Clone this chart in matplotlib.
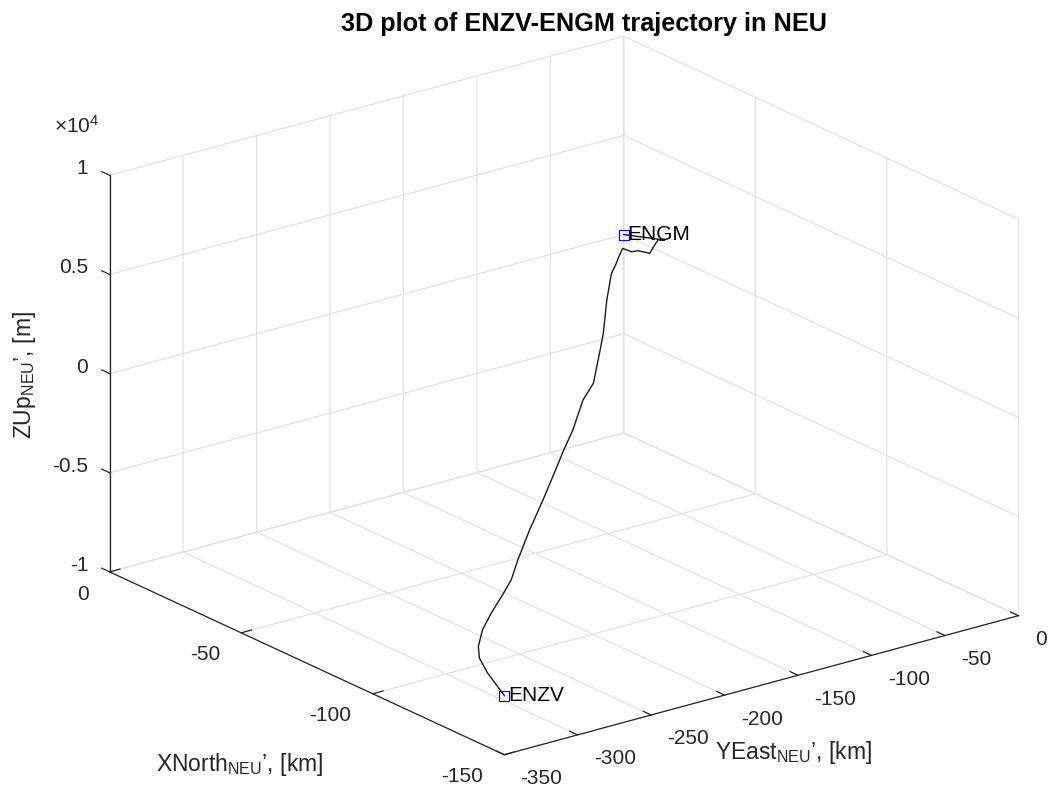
import matplotlib
matplotlib.use('Agg')
import matplotlib.pyplot as plt
from matplotlib.transforms import ScaledTranslation

# ---------------- data ----------------
# trajectory, NEU frame centred on ENGM
x_north = [-126.6, -124.0, -120.2, -117.1, -116.7, -113.2, -106.5, -97.1, -90.4,
           -85.1, -75.7, -65.0, -56.9, -48.9, -40.8, -32.8, -24.3, -19.0, -16.4,
           -13.6, -10.0, -6.4, -4.6, -1.0, -3.5, -6.0, -10.4, -12.7, -13.6, -16.1, 0.0]
y_east = [-308.0, -308.0, -308.0, -308.0, -308.0, -298.9, -281.0, -256.4, -238.5,
          -224.5, -199.7, -171.4, -150.2, -128.9, -107.7, -86.5, -64.2, -50.1, -43.3,
          -35.9, -26.3, -17.0, -12.1, -2.6, -1.0, -1.0, -1.0, -1.0, -1.0, -1.0, 0.0]
z_up = [-9300, -8996, -8553, -7994, -7430, -6988, -6917, -7063, -7078,
        -6675, -6242, -5955, -5698, -5360, -5184, -4594, -4720, -3647, -3103,
        -1743, -816, -800, -675, -584, -632, -428, -286, 358, 580, 733, 0]

airports = ['ENZV', 'ENGM']
ap_x = [-126.6, 0.0]
ap_y = [-308.0, 0.0]
ap_z = [-9300, 0]

x_ticks = [-150, -100, -50, 0]
x_ticklabels = ['-150', '-100', '-50', '0']
y_ticks = [-350, -300, -250, -200, -150, -100, -50, 0]
y_ticklabels = ['-350', '-300', '-250', '-200', '-150', '-100', '-50', '0']
z_ticks = [-10000, -5000, 0, 5000, 10000]
z_ticklabels = ['-1', '-0.5', '0', '0.5', '1']

title = '3D plot of ENZV-ENGM trajectory in NEU'
xlabel = 'XNorth$_{\\mathregular{NEU}}$\u2019, [km]'
ylabel = 'YEast$_{\\mathregular{NEU}}$\u2019, [km]'
zlabel = 'ZUp$_{\\mathregular{NEU}}$\u2019, [m]'

# ---------------- style ----------------
plt.rcParams['font.family'] = ['Liberation Sans', 'DejaVu Sans']
plt.rcParams['mathtext.fontset'] = 'custom'
plt.rcParams['mathtext.rm'] = 'Liberation Sans'
plt.rcParams['mathtext.it'] = 'Liberation Sans:italic'
plt.rcParams['mathtext.bf'] = 'Liberation Sans:bold'
plt.rcParams['grid.color'] = '#e0e0e0'
plt.rcParams['grid.linewidth'] = 0.8
plt.rcParams['grid.linestyle'] = '-'
plt.rcParams['xtick.color'] = '#262626'
plt.rcParams['ytick.color'] = '#262626'
plt.rcParams['text.color'] = '#262626'
AX = '#262626'
TICK_FS = 15
LABEL_FS = 16.5

W, H = 1055, 794
fig = plt.figure(figsize=(W / 100, H / 100), dpi=100)
fig.patch.set_facecolor('white')

S = 1000.0
cx, cy = 564.0, 398.5   # projected box centre (px, from left / from bottom)
left = cx - 0.5135 * S
bottom = cy - 0.5135 * S
ax = fig.add_axes([left / W, bottom / H, S / W, S / H], projection='3d')
ax.set_proj_type('ortho')
ax.view_init(elev=20.73, azim=-37.38)
ax.set_box_aspect((650, 647, 424), zoom=980.9 / S)
ax.patch.set_alpha(0)

for axis in (ax.xaxis, ax.yaxis, ax.zaxis):
    axis.set_pane_color((1, 1, 1, 1))
    axis.line.set_color(AX)
    axis.line.set_linewidth(0.9)
    axis._axinfo['tick']['inward_factor'] = 0.0
    axis._axinfo['tick']['outward_factor'] = 0.25
    axis._axinfo['tick']['linewidth'] = {True: 0.9, False: 0.5}
    axis._axinfo['grid']['color'] = '#e0e0e0'
    axis._axinfo['grid']['linewidth'] = 0.8
    axis.label.set_visible(False)
    axis.offsetText.set_visible(False)

# z axis on the left vertical edge, ticks pointing along the x direction
ax.zaxis.set_ticks_position('lower')
ax.zaxis._get_tickdir = lambda position: 0

# trajectory
ax.plot(x_north, y_east, z_up, color='#1a1a1a', linewidth=1.0)
# airports
ax.plot(ap_x, ap_y, ap_z, linestyle='none', marker='s', markersize=7,
        markerfacecolor='none', markeredgecolor='#0000ff', markeredgewidth=0.8)
text_tr = ax.transData + ScaledTranslation(0.035, 0, fig.dpi_scale_trans)
for name, xa, ya, za in zip(airports, ap_x, ap_y, ap_z):
    ax.text(xa, ya, za, name, ha='left', va='center', fontsize=TICK_FS,
            color='black', transform=text_tr)

ax.set_xlim(0, -150)
ax.set_ylim(-350, 0)
ax.set_zlim(-10000, 10000)

ax.set_xticks(x_ticks)
ax.set_xticklabels(x_ticklabels, ha='right', va='center', fontsize=TICK_FS)
ax.set_yticks(y_ticks)
ax.set_yticklabels(y_ticklabels, ha='left', va='center', fontsize=TICK_FS)
ax.set_zticks(z_ticks)
ax.set_zticklabels(z_ticklabels, ha='right', va='baseline', fontsize=TICK_FS)
ax.xaxis.set_tick_params(pad=7.5)
ax.yaxis.set_tick_params(pad=7.5)
ax.zaxis.set_tick_params(pad=0.8)

# labels (horizontal, as in the reference)
fig.text(156 / W, 1 - 771 / H, xlabel, ha='left', va='baseline', fontsize=LABEL_FS)
fig.text(715 / W, 1 - 759 / H, ylabel, ha='left', va='baseline', fontsize=LABEL_FS)
fig.text(24 / W, 1 - 375 / H, zlabel, ha='center', va='center', rotation=90,
         fontsize=LABEL_FS)
fig.text(54 / W, 1 - 133 / H, '\u00d710$^{4}$', ha='left', va='baseline',
         fontsize=TICK_FS)
fig.text(584 / W, 1 - 31 / H, title, ha='center', va='baseline', fontsize=18.2,
         fontweight='bold', color='black')

fig.savefig('out.png', dpi=100, facecolor='white')
